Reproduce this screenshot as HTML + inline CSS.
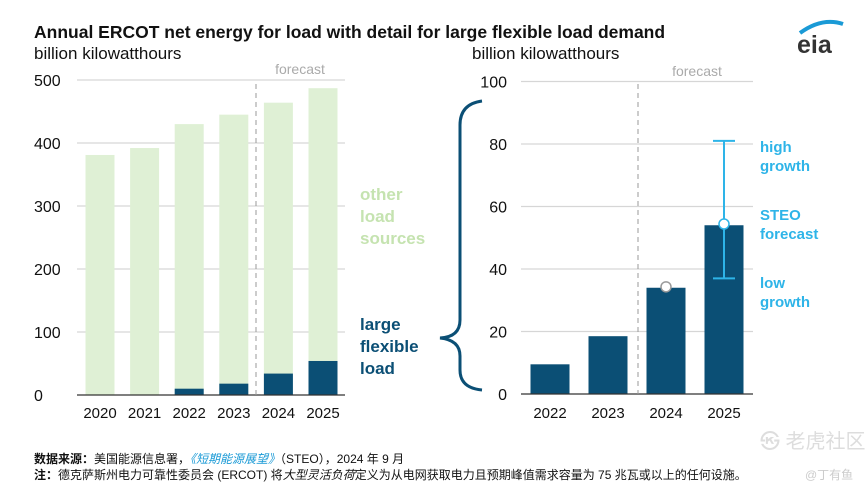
<!DOCTYPE html>
<html><head><meta charset="utf-8"><style>
body{margin:0;background:#fff;width:866px;height:493px;overflow:hidden;font-family:"Liberation Sans","Noto Sans CJK SC",sans-serif}
svg text{font-family:"Liberation Sans","Noto Sans CJK SC",sans-serif}
</style></head><body>
<svg id="c" width="866" height="493" xmlns="http://www.w3.org/2000/svg">
<text x="34" y="38" font-size="17.5" font-weight="bold" fill="#111">Annual ERCOT net energy for load with detail for large flexible load demand</text>
<text x="34" y="59" font-size="17" fill="#111">billion kilowatthours</text>
<text x="472" y="59" font-size="17" fill="#111">billion kilowatthours</text>
<g>
<path d="M800 33 Q822 17 843 24" stroke="#1a9ad6" stroke-width="4" fill="none"/>
<text x="797" y="53" font-size="25" font-weight="bold" fill="#333">eia</text>
</g>
<g id="left"></g><g id="right"></g>
<text x="360" y="200" font-size="17" font-weight="bold" fill="#c5e3b0"><tspan x="360">other</tspan><tspan x="360" dy="22">load</tspan><tspan x="360" dy="22">sources</tspan></text>
<text x="360" y="330" font-size="17" font-weight="bold" fill="#0b4f75"><tspan x="360">large</tspan><tspan x="360" dy="22">flexible</tspan><tspan x="360" dy="22">load</tspan></text>
<path d="M482 101 Q460 104 460 125 L460 320 Q460 337 440 338 Q460 340 460 356 L460 370 Q460 388 482 390" stroke="#0b4f75" stroke-width="3" fill="none"/>
<text x="760" y="152" font-size="15" font-weight="bold" fill="#2eb4e8"><tspan x="760">high</tspan><tspan x="760" dy="19">growth</tspan></text>
<text x="760" y="220" font-size="15" font-weight="bold" fill="#2eb4e8"><tspan x="760">STEO</tspan><tspan x="760" dy="19">forecast</tspan></text>
<text x="760" y="288" font-size="15" font-weight="bold" fill="#2eb4e8"><tspan x="760">low</tspan><tspan x="760" dy="19">growth</tspan></text>
<text x="34" y="463" font-size="12" fill="#111"><tspan font-weight="bold">数据来源：</tspan>美国能源信息署，<tspan fill="#1a9ad6" font-style="italic">《短期能源展望》</tspan>（STEO），2024 年 9 月</text>
<text x="34" y="479" font-size="12" fill="#111"><tspan font-weight="bold">注：</tspan>德克萨斯州电力可靠性委员会 (ERCOT) 将<tspan font-style="italic">大型灵活负荷</tspan>定义为从电网获取电力且预期峰值需求容量为 75 兆瓦或以上的任何设施。</text>
<text x="760" y="448" font-size="20" fill="#ddd">㉿ 老虎社区</text>
<text x="805" y="479" font-size="12" fill="#ccc">@丁有鱼</text>
</svg>
<script>
const leftYears=["2020","2021","2022","2023","2024","2025"];
const leftTotal=[381,392,430,445,464,487];
const leftLarge=[0,0,10,18,34,54];
const leftTicks=[0,100,200,300,400,500];
const rightYears=["2022","2023","2024","2025"];
const rightLarge=[9.5,18.5,34,54];
const rightMarker=[null,null,34.3,54.4];
const errLow=[null,null,null,37];
const errHigh=[null,null,null,81];
const rightTicks=[0,20,40,60,80,100];
const NS="http://www.w3.org/2000/svg";
function mk(p,t,a){const e=document.createElementNS(NS,t);for(const k in a)e.setAttribute(k,a[k]);p.appendChild(e);return e;}
const L=document.getElementById('left'),R=document.getElementById('right');
const ly=v=>395-v*0.63, lx=i=>100+i*44.6;
leftTicks.forEach(t=>{
 if(t>0){const g=mk(L,'line',{x1:77,x2:345,y1:ly(t),y2:ly(t),stroke:'#d6d6d6','stroke-width':1.2});
 }
 const tx=mk(L,'text',{x:34,y:ly(t)+6,'font-size':16,fill:'#111'});tx.textContent=t;
 
});
leftYears.forEach((y,i)=>{
 const b=mk(L,'rect',{x:lx(i)-14.5,y:ly(leftTotal[i]),width:29,height:leftTotal[i]*0.63,fill:'#dff0d5'});
 
 if(leftLarge[i]>0){const d=mk(L,'rect',{x:lx(i)-14.5,y:ly(leftLarge[i]),width:29,height:leftLarge[i]*0.63,fill:'#0b4f75'});
 }
 const t=mk(L,'text',{x:lx(i),y:418,'font-size':15,fill:'#111','text-anchor':'middle'});t.textContent=y;
 
});
const lb=mk(L,'line',{x1:77,x2:345,y1:395,y2:395,stroke:'#333','stroke-width':1.2});

const ld=mk(L,'line',{x1:256,x2:256,y1:84,y2:395,stroke:'#999','stroke-dasharray':'5,4'});

const lf=mk(L,'text',{x:300,y:74,'font-size':14,fill:'#aaa','text-anchor':'middle'});lf.textContent='forecast';


const ry=v=>394-v*3.125, rx=i=>550+i*58;
rightTicks.forEach(t=>{
 if(t>0){const g=mk(R,'line',{x1:521,x2:753,y1:ry(t),y2:ry(t),stroke:'#d6d6d6','stroke-width':1.2});
 }
 const tx=mk(R,'text',{x:507,y:ry(t)+6,'font-size':16,fill:'#111','text-anchor':'end'});tx.textContent=t;
 
});
rightYears.forEach((y,i)=>{
 const b=mk(R,'rect',{x:rx(i)-19.5,y:ry(rightLarge[i]),width:39,height:rightLarge[i]*3.125,fill:'#0b4f75'});
 
 const t=mk(R,'text',{x:rx(i),y:418,'font-size':15,fill:'#111','text-anchor':'middle'});t.textContent=y;
 
 if(errLow[i]!=null){
  const e=mk(R,'line',{x1:rx(i),x2:rx(i),y1:ry(errHigh[i]),y2:ry(errLow[i]),stroke:'#2eb4e8','stroke-width':2});
  
  [errHigh[i],errLow[i]].forEach(v=>{const c=mk(R,'line',{x1:rx(i)-11,x2:rx(i)+11,y1:ry(v),y2:ry(v),stroke:'#2eb4e8','stroke-width':2});
  });
 }
 if(rightMarker[i]!=null){
  const m=mk(R,'circle',{cx:rx(i),cy:ry(rightMarker[i]),r:5,fill:'#fff',stroke:i==3?'#2eb4e8':'#999','stroke-width':1.5});
  
 }
});
const rb=mk(R,'line',{x1:521,x2:753,y1:394,y2:394,stroke:'#333','stroke-width':1.2});

const rd=mk(R,'line',{x1:638,x2:638,y1:84,y2:394,stroke:'#999','stroke-dasharray':'5,4'});

const rf=mk(R,'text',{x:697,y:76,'font-size':14,fill:'#aaa','text-anchor':'middle'});rf.textContent='forecast';

</script>
</body></html>
